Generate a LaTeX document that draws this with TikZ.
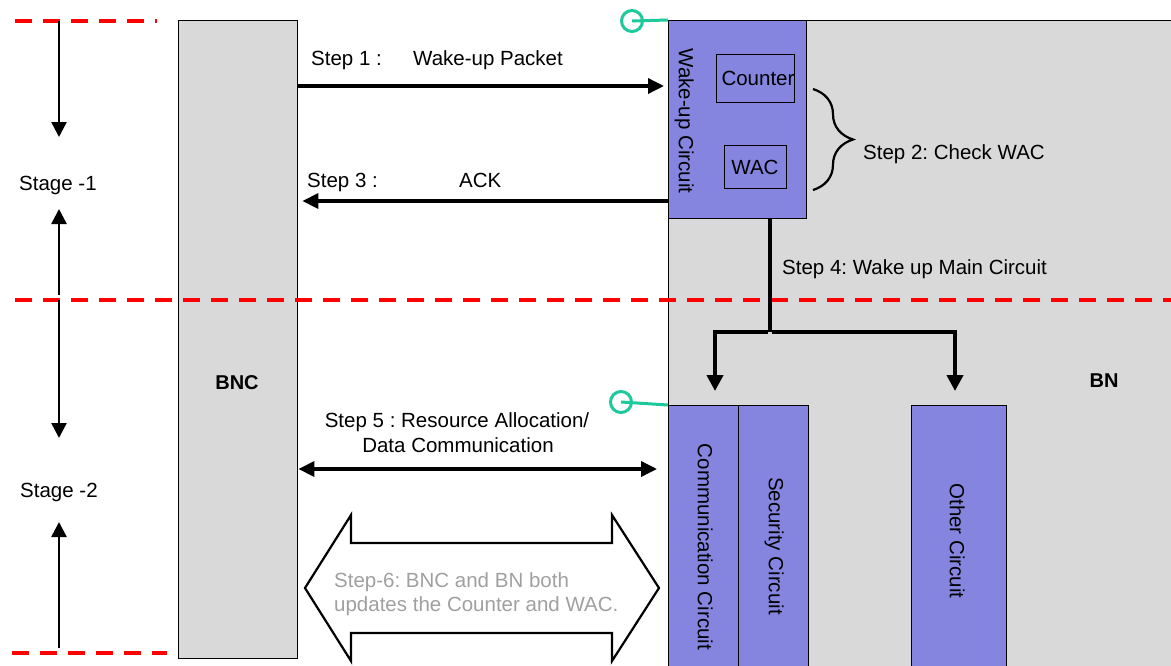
\documentclass[tikz,border=0pt]{standalone}
\usepackage{fontspec}
\setmainfont{Liberation Sans}
\usetikzlibrary{arrows.meta,decorations.pathreplacing}
\definecolor{boxgray}{RGB}{217,217,217}
\definecolor{circblue}{RGB}{133,133,224}
\definecolor{ringgreen}{RGB}{29,201,155}
\definecolor{steptext}{RGB}{160,160,160}
\frenchspacing
\begin{document}
\begin{tikzpicture}[x=1pt,y=-1pt,
  lbl/.style={font=\fontsize{20.5}{24}\selectfont\frenchspacing, inner sep=0pt, text height=14.5pt, text depth=0pt},
  bold/.style={lbl, font=\fontsize{20}{24}\selectfont\bfseries},
  grayrect/.style={draw=black, line width=1.4pt, fill=boxgray, anchor=north west, inner sep=0pt},
  circrect/.style={draw=black, line width=1.4pt, fill=circblue, anchor=north west, inner sep=0pt},
  inbox/.style={draw=black, line width=1.4pt, anchor=north west, inner sep=0pt},
  stagedash/.style={red, line width=3.5pt, dash pattern=on 17pt off 11pt},
  stagearr/.style={line width=2.5pt, -{Triangle[length=15pt,width=15pt]}},
  msgarr/.style={line width=3.5pt, -{Triangle[length=16pt,width=15pt]}},
  wakearr/.style={line width=4.5pt, -{Triangle[length=16pt,width=16pt]}},
  ring/.style={draw=ringgreen, line width=3pt},
]
\useasboundingbox (0,0) rectangle (1171,665);
\clip (0,0) rectangle (1171,665);

% main blocks
\node[grayrect, minimum width=119pt, minimum height=638pt] (bnc) at (178,20) {};
\node[grayrect, minimum width=540pt, minimum height=680pt] (bn) at (668,20) {};
\node[bold] at (237,382) {BNC};
\node[bold] at (1104,380) {BN};

% wake-up circuit
\node[circrect, minimum width=138pt, minimum height=198pt] (wake) at (668,20) {};
\node[lbl, rotate=-90] at (686,121) {Wake-up Circuit};
\node[inbox, minimum width=78pt, minimum height=48pt] (counter) at (716,54) {};
\node[lbl] at (758,78) {Counter};
\node[inbox, minimum width=62pt, minimum height=43pt] (wac) at (724,145) {};
\node[lbl] at (755,167) {WAC};

% main circuits
\node[circrect, minimum width=70pt, minimum height=280pt] (comm) at (668,405) {};
\node[circrect, minimum width=70pt, minimum height=280pt] (sec) at (738,405) {};
\node[circrect, minimum width=95pt, minimum height=280pt] (other) at (911,405) {};
\node[lbl, rotate=-90] at (705,547) {Communication Circuit};
\node[lbl, rotate=-90] at (776,546) {Security Circuit};
\node[lbl, rotate=-90] at (957,541) {Other Circuit};

% stage separators
\draw[stagedash] (15,21) -- (157,21);
\draw[stagedash] (15,300) -- (1171,300);
\draw[stagedash] (12,653) -- (167,653);

% stage labels and arrows
\node[lbl, anchor=west] (st1) at (19,183) {Stage -1};
\node[lbl, anchor=west] (st2) at (20,490) {Stage -2};
\coordinate (s1top) at (59,21);
\coordinate (s1bot) at (59,295);
\coordinate (s2top) at (59,300);
\coordinate (s2bot) at (59,648);
\draw[stagearr] (s1top) -- (59,137);
\draw[stagearr] (s1bot) -- (59,209);
\draw[stagearr] (s2top) -- (59,438);
\draw[stagearr] (s2bot) -- (59,522);

% step 1
\coordinate (y1) at (0,86);
\coordinate (y3) at (0,201);
\coordinate (y5) at (0,469);
\draw[msgarr] (bnc.east |- y1) -- ([xshift=-4pt]wake.west |- y1);
\node[lbl, anchor=west] at (311,58) {Step 1 :};
\node[lbl, anchor=west] at (413,58) {Wake-up Packet};

% step 3
\draw[msgarr] (wake.west |- y3) -- ([xshift=4pt]bnc.east |- y3);
\node[lbl, anchor=west] at (307,180) {Step 3 :};
\node[lbl, anchor=west] at (459,180) {ACK};

% step 2 brace
\coordinate (b1) at (813,89);
\coordinate (b2) at (813,190);
\draw[line width=2.2pt, decorate, decoration={brace, amplitude=40pt}] (b1) -- (b2);
\node[lbl, anchor=west] at (863,152) {Step 2: Check WAC};

% step 4
\coordinate (split) at (770,332);
\coordinate (t1) at (715,391);
\coordinate (t2) at (955,391);
\draw[line width=4pt] (wake.south -| split) -- (split);
\draw[wakearr] ([xshift=-2pt]split) -| (t1);
\draw[wakearr] ([xshift=2pt]split) -| (t2);
\node[lbl, anchor=west] at (782,267) {Step 4: Wake up Main Circuit};

% step 5
\draw[line width=3.5pt, {Triangle[length=16pt,width=15pt]}-{Triangle[length=16pt,width=15pt]}]
  (bnc.east |- y5) -- ([xshift=-11pt]comm.west |- y5);
\node[lbl] at (457,420) {Step 5 : Resource Allocation/};
\node[lbl] at (458,445) {Data Communication};

% green markers
\coordinate (g1) at (632,21);
\coordinate (g2) at (621,402);
\draw[ring] (g1) -- (wake.north west);
\draw[ring] (g1) circle (10.5pt);
\draw[ring] (g2) -- (comm.north west);
\draw[ring] (g2) circle (10.5pt);

% step 6 double arrow
\draw[line width=2.2pt, fill=white, line join=miter]
  (305,588) -- (351,515) -- (351,543) -- (612,543) -- (612,515) -- (659,588)
  -- (612,661) -- (612,633) -- (351,633) -- (351,661) -- cycle;
\node[lbl, anchor=west, text=steptext] at (334,580) {Step-6: BNC and BN both};
\node[lbl, anchor=west, text=steptext] at (334,604) {updates the Counter and WAC.};
\end{tikzpicture}
\end{document}
